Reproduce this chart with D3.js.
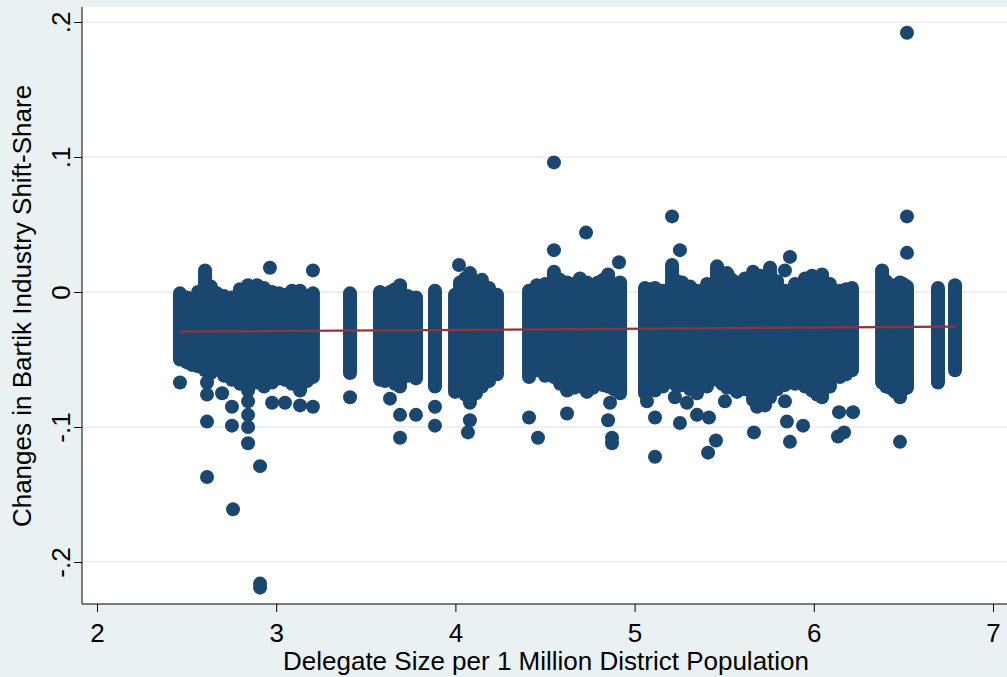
<!DOCTYPE html>
<html>
<head>
<meta charset="utf-8">
<script src="https://cdn.jsdelivr.net/npm/d3@7"></script>
<style>
  body { margin: 0; background: #eaf1f3; }
  svg { display: block; font-family: "Liberation Sans", Arial, Helvetica, sans-serif; }
</style>
</head>
<body>
<svg id="chart" width="1007" height="677"></svg>
<script>
// dense columns of observations: delegate size (x) and top / bottom of the band (y)
var colX   = [2.463, 2.502, 2.530, 2.564, 2.603, 2.636, 2.670, 2.709, 2.753, 2.798, 2.843, 2.893,
              2.932, 2.977, 3.016, 3.049, 3.088, 3.133, 3.172, 3.205,
              3.412,
              3.579, 3.607, 3.635, 3.663, 3.691, 3.735, 3.780, 3.886,
              3.998, 4.026, 4.054, 4.081, 4.115, 4.148, 4.188, 4.232,
              4.411, 4.455, 4.500, 4.550, 4.584, 4.623, 4.662, 4.695, 4.734, 4.768, 4.796, 4.824,
              4.852, 4.885, 4.919,
              5.058, 5.086, 5.114, 5.158, 5.209, 5.237, 5.265, 5.310, 5.348,
              5.404, 5.460, 5.488, 5.516, 5.544, 5.571, 5.616, 5.661, 5.700, 5.756, 5.795, 5.839,
              5.895, 5.951, 5.990, 6.046, 6.090,
              6.146, 6.180, 6.213,
              6.381, 6.403, 6.425, 6.453, 6.481, 6.498, 6.520,
              6.693, 6.788];
var colTop = [-0.001, -0.004, -0.008, 0.000, 0.016, 0.004, -0.001, -0.003, -0.004, 0.002, 0.005, 0.005,
              0.003, 0.000, -0.001, -0.002, 0.001, 0.001, -0.003, -0.001,
              -0.001,
              0.000, -0.002, 0.000, 0.002, 0.005, -0.003, -0.004, 0.001,
              -0.002, 0.007, 0.010, 0.014, 0.008, 0.009, 0.003, -0.002,
              0.001, 0.005, 0.006, 0.015, 0.009, 0.007, 0.006, 0.010, 0.007, 0.005, 0.007, 0.009,
              0.013, 0.006, 0.007,
              0.003, 0.002, 0.003, 0.001, 0.020, 0.008, 0.007, 0.004, 0.001,
              0.006, 0.019, 0.012, 0.014, 0.009, 0.007, 0.010, 0.015, 0.012, 0.018, 0.008, 0.001,
              0.006, 0.010, 0.012, 0.013, 0.006,
              0.001, 0.002, 0.003,
              0.016, 0.008, 0.003, 0.005, 0.007, 0.006, 0.004,
              0.003, 0.005];
var colBot = [-0.050, -0.052, -0.054, -0.055, -0.058, -0.060, -0.056, -0.062, -0.065, -0.068, -0.073, -0.067,
              -0.070, -0.067, -0.064, -0.065, -0.068, -0.073, -0.066, -0.063,
              -0.060,
              -0.065, -0.066, -0.063, -0.068, -0.070, -0.062, -0.064, -0.070,
              -0.074, -0.073, -0.076, -0.082, -0.075, -0.070, -0.066, -0.061,
              -0.063, -0.058, -0.062, -0.063, -0.068, -0.073, -0.071, -0.070, -0.074, -0.071, -0.067, -0.069,
              -0.070, -0.072, -0.075,
              -0.075, -0.072, -0.073, -0.070, -0.067, -0.070, -0.069, -0.072, -0.075,
              -0.070, -0.065, -0.068, -0.071, -0.070, -0.074, -0.072, -0.080, -0.076, -0.078, -0.072, -0.069,
              -0.068, -0.070, -0.073, -0.078, -0.070,
              -0.063, -0.061, -0.058,
              -0.067, -0.070, -0.071, -0.074, -0.078, -0.072, -0.071,
              -0.067, -0.058];

// isolated observations outside the dense bands
var outX = [2.463, 2.614, 2.614, 2.614, 2.614, 2.698, 2.753, 2.753, 2.759, 2.843, 2.843, 2.843,
            2.843, 2.910, 2.910, 2.910, 2.965, 2.977, 3.049, 3.133, 3.205, 3.205, 3.412, 3.635,
            3.691, 3.691, 3.780, 3.886, 3.886, 4.020, 4.081, 4.070, 4.411, 4.461, 4.550, 4.550,
            4.623, 4.729, 4.863, 4.852, 4.874, 4.874, 4.913, 5.069, 5.114, 5.114, 5.209, 5.253,
            5.225, 5.292, 5.253, 5.348, 5.415, 5.454, 5.410, 5.504, 5.683, 5.666, 5.728, 5.839,
            5.867, 5.839, 5.850, 5.867, 5.940, 6.018, 6.141, 6.219, 6.135, 6.169, 6.520, 6.520,
            6.520, 6.481];
var outY = [-0.067, -0.067, -0.076, -0.096, -0.137, -0.075, -0.085, -0.099, -0.161, -0.081, -0.091, -0.100,
            -0.112, -0.129, -0.216, -0.219, 0.018, -0.082, -0.082, -0.084, 0.016, -0.085, -0.078, -0.079,
            -0.091, -0.108, -0.091, -0.085, -0.099, 0.020, -0.095, -0.104, -0.093, -0.108, 0.096, 0.031,
            -0.090, 0.044, -0.082, -0.095, -0.108, -0.112, 0.022, -0.081, -0.093, -0.122, 0.056, 0.031,
            -0.078, -0.082, -0.097, -0.091, -0.093, -0.110, -0.119, -0.081, -0.085, -0.104, -0.084, 0.016,
            0.026, -0.081, -0.096, -0.111, -0.099, -0.076, -0.089, -0.089, -0.107, -0.104, 0.192, 0.056,
            0.029, -0.111];

// linear fit line
var fitX = [2.463, 6.788];
var fitY = [-0.0294, -0.0257];

var xTicks = [2, 3, 4, 5, 6, 7];
var yTicks = [-0.2, -0.1, 0, 0.1, 0.2];
var yTickText = ["-.2", "-.1", "0", ".1", ".2"];

var navy = "#1a476f",
    fitColor = "#90353b",
    gridColor = "#eaf2f3",
    fontSize = 26;

var svg = d3.select("#chart");

var plotLeft = 82, plotTop = 7, plotBottom = 604, plotRight = 1007;

var x = d3.scaleLinear().domain([2, 7]).range([97, 993]);
var y = d3.scaleLinear().domain([-0.2, 0.2]).range([562, 22]);

// plot region
svg.append("rect")
    .attr("x", plotLeft).attr("y", plotTop)
    .attr("width", plotRight - plotLeft).attr("height", plotBottom - plotTop)
    .attr("fill", "#fff");

// horizontal grid
svg.append("g").selectAll("line")
    .data(yTicks)
    .enter().append("line")
    .attr("x1", plotLeft).attr("x2", plotRight)
    .attr("y1", function (d) { return y(d); })
    .attr("y2", function (d) { return y(d); })
    .attr("stroke", gridColor).attr("stroke-width", 2);

// dense bands: a round-capped stroke as wide as one marker
svg.append("g").selectAll("line")
    .data(colX)
    .enter().append("line")
    .attr("x1", function (d) { return x(d); })
    .attr("x2", function (d) { return x(d); })
    .attr("y1", function (d, i) { return y(colTop[i]); })
    .attr("y2", function (d, i) { return y(colBot[i]); })
    .attr("stroke", navy).attr("stroke-width", 14)
    .attr("stroke-linecap", "round");

svg.append("g").selectAll("circle")
    .data(outX)
    .enter().append("circle")
    .attr("cx", function (d) { return x(d); })
    .attr("cy", function (d, i) { return y(outY[i]); })
    .attr("r", 7)
    .attr("fill", navy);

svg.append("line")
    .attr("x1", x(fitX[0])).attr("x2", x(fitX[1]))
    .attr("y1", y(fitY[0])).attr("y2", y(fitY[1]))
    .attr("stroke", fitColor).attr("stroke-width", 2.2);

// axes
var xAxis = d3.axisBottom(x).tickValues(xTicks).tickSize(8).tickPadding(12)
    .tickFormat(d3.format("d"));
var gx = svg.append("g").attr("transform", "translate(0," + plotBottom + ")").call(xAxis);
gx.select(".domain").attr("d", "M" + plotLeft + ",0H" + plotRight);
gx.selectAll("line").attr("stroke", "#000");
gx.selectAll("text").attr("font-size", fontSize).attr("fill", "#000")
    .attr("font-family", "'Liberation Sans', Arial, sans-serif");

var yAxis = d3.axisLeft(y).tickValues(yTicks).tickSize(8)
    .tickFormat(function (d, i) { return yTickText[i]; });
var gy = svg.append("g").attr("transform", "translate(" + plotLeft + ",0)").call(yAxis);
gy.select(".domain").attr("d", "M0," + plotTop + "V" + plotBottom);
gy.selectAll("line").attr("stroke", "#000");
gy.selectAll("text")
    .attr("x", null).attr("dy", null)
    .attr("text-anchor", "middle")
    .attr("transform", "translate(-12,0) rotate(-90)")
    .attr("font-size", fontSize).attr("fill", "#000")
    .attr("font-family", "'Liberation Sans', Arial, sans-serif");

svg.append("text")
    .attr("x", 546).attr("y", 670)
    .attr("text-anchor", "middle")
    .attr("font-size", fontSize)
    .text("Delegate Size per 1 Million District Population");

svg.append("text")
    .attr("transform", "translate(31,306) rotate(-90)")
    .attr("text-anchor", "middle")
    .attr("font-size", fontSize)
    .text("Changes in Bartik Industry Shift-Share");
</script>
</body>
</html>
